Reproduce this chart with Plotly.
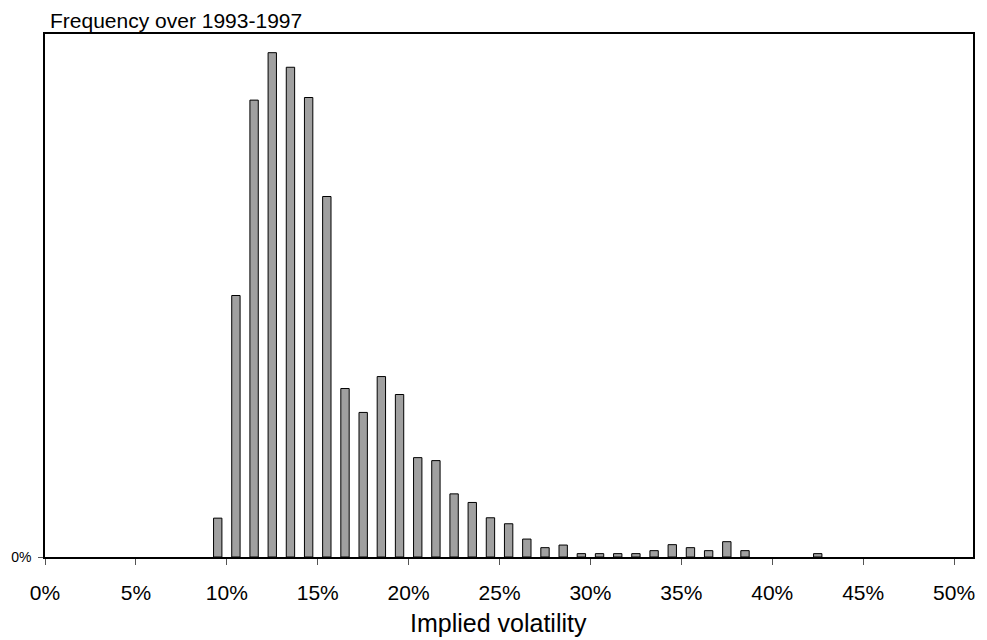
import plotly.graph_objects as go

# Implied volatility buckets (bar centres, fraction) and frequency (fraction of days)
vol_buckets = [0.095, 0.105, 0.115, 0.125, 0.135, 0.145, 0.155, 0.165, 0.175, 0.185,
               0.195, 0.205, 0.215, 0.225, 0.235, 0.245, 0.255, 0.265, 0.275, 0.285,
               0.295, 0.305, 0.315, 0.325, 0.335, 0.345, 0.355, 0.365, 0.375, 0.385,
               0.425]
frequency = [0.0104, 0.0700, 0.1223, 0.1350, 0.1311, 0.1230, 0.0965, 0.0451, 0.0387, 0.0483,
             0.0435, 0.0266, 0.0258, 0.0169, 0.0146, 0.0105, 0.0089, 0.0048, 0.0025, 0.0032,
             0.0009, 0.0009, 0.0009, 0.0009, 0.0017, 0.0033, 0.0025, 0.0017, 0.0041, 0.0017,
             0.0009]

x_ticks = [0.0, 0.05, 0.10, 0.15, 0.20, 0.25, 0.30, 0.35, 0.40, 0.45, 0.50]
x_labels = ["0%", "5%", "10%", "15%", "20%", "25%", "30%", "35%", "40%", "45%", "50%"]

font = "Arial, Liberation Sans, sans-serif"

fig = go.Figure(go.Bar(
    x=vol_buckets,
    y=frequency,
    width=0.0046,
    marker=dict(color="#a0a0a0", line=dict(color="black", width=1)),
))

# the page body has an 8px margin, so the figure is a bit smaller than the window
fig.update_layout(
    width=979,
    height=632,
    margin=dict(l=37, r=14, t=26, b=83),
    paper_bgcolor="white",
    plot_bgcolor="white",
    showlegend=False,
    font=dict(family=font, color="black"),
    xaxis=dict(
        range=[0, 0.5104],
        tickvals=x_ticks,
        ticktext=x_labels,
        ticks="outside",
        ticklen=6,
        tickcolor="#555555",
        tickfont=dict(size=21),
        ticklabelstandoff=10,
        automargin=False,
        showline=True,
        linecolor="black",
        linewidth=1.5,
        mirror=True,
        showgrid=False,
        zeroline=False,
    ),
    yaxis=dict(
        range=[0, 0.14],
        tickvals=[0],
        ticktext=["0% "],
        ticks="outside",
        ticklen=5,
        tickcolor="#555555",
        tickfont=dict(size=14),
        automargin=False,
        showline=True,
        linecolor="black",
        linewidth=1.5,
        mirror=True,
        showgrid=False,
        zeroline=False,
    ),
)

fig.add_annotation(
    text="Frequency over 1993-1997",
    xref="paper", yref="paper", x=0, y=1,
    xanchor="left", yanchor="middle", xshift=3, yshift=14,
    showarrow=False, font=dict(size=21),
)
fig.add_annotation(
    text="Implied volatility",
    xref="paper", yref="paper", x=0.5, y=0,
    xanchor="center", yanchor="middle", xshift=-11, yshift=-66,
    showarrow=False, font=dict(size=25),
)

fig.write_html("out.html")
